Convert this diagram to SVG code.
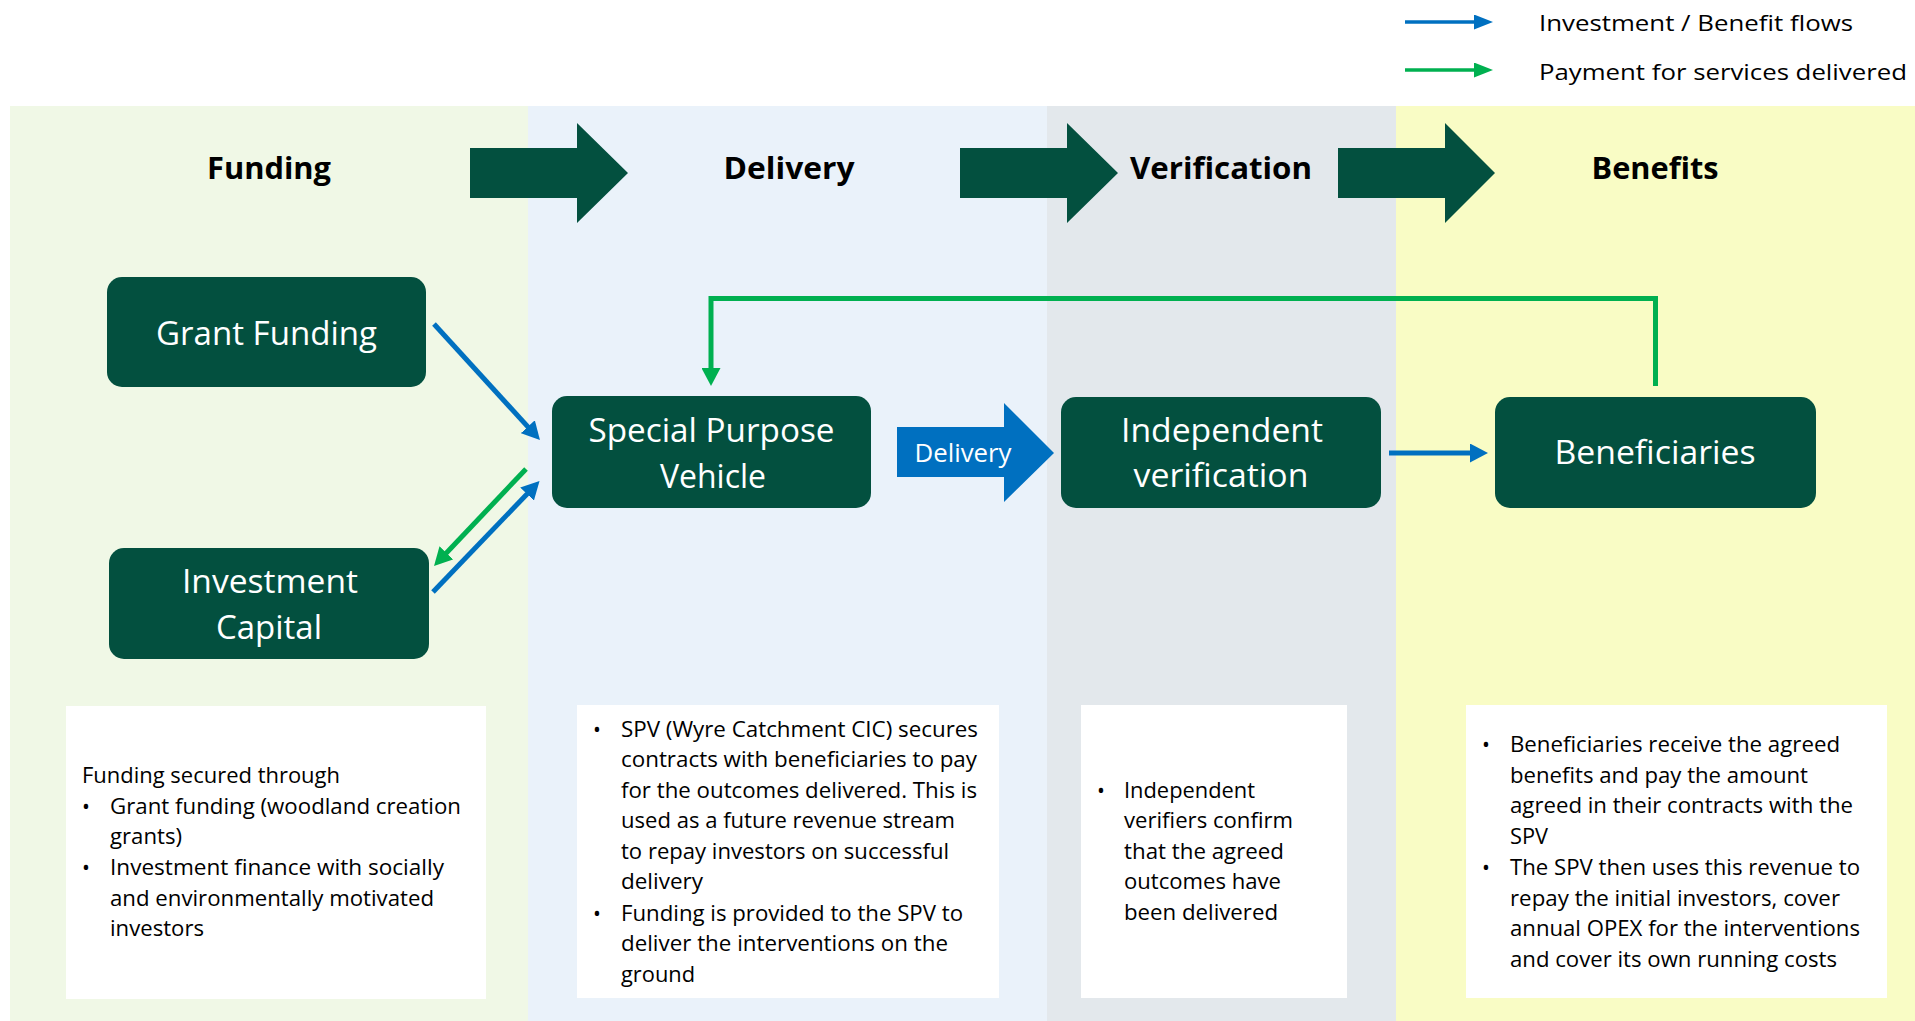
<svg xmlns="http://www.w3.org/2000/svg" width="1915" height="1021" viewBox="0 0 1915 1021">
  <style>
    .band-fund { fill: #F0F8E6; }
    .band-del { fill: #EAF2FA; }
    .band-ver { fill: #E3E8EC; }
    .band-ben { fill: #F9FCC5; }
    .stage { font-family: "Open Sans", "Liberation Sans", sans-serif; font-weight: bold; font-size: 31px; fill: #000; text-anchor: middle; }
    .stage-arrow { fill: #03503F; }
    .node rect { fill: #03503F; }
    .node text { font-family: "Open Sans", "Liberation Sans", sans-serif; font-size: 33px; fill: #fff; text-anchor: middle; }
    .note rect { fill: #fff; }
    .note text { font-family: "Open Sans", "Liberation Sans", sans-serif; font-size: 21px; fill: #000; }
    .legend text { font-family: "Open Sans", "Liberation Sans", sans-serif; font-size: 21px; fill: #000; }
    .flow-blue { stroke: #0070C0; stroke-width: 5; fill: none; }
    .flow-green { stroke: #00B050; stroke-width: 5; fill: none; }
    .legend-blue { stroke: #0070C0; stroke-width: 3.5; fill: none; }
    .legend-green { stroke: #00B050; stroke-width: 3.5; fill: none; }
  </style>
  <defs>
    <marker id="head-blue" markerUnits="userSpaceOnUse" markerWidth="19" markerHeight="19" refX="8" refY="9.5" orient="auto">
      <path d="M0,0 L18,9.5 L0,19 z" fill="#0070C0"/>
    </marker>
    <marker id="head-green" markerUnits="userSpaceOnUse" markerWidth="19" markerHeight="19" refX="8" refY="9.5" orient="auto">
      <path d="M0,0 L18,9.5 L0,19 z" fill="#00B050"/>
    </marker>
    <marker id="legend-head-blue" markerUnits="userSpaceOnUse" markerWidth="20" markerHeight="15" refX="9" refY="7.5" orient="auto">
      <path d="M0,0 L19,7.5 L0,15 z" fill="#0070C0"/>
    </marker>
    <marker id="legend-head-green" markerUnits="userSpaceOnUse" markerWidth="20" markerHeight="15" refX="9" refY="7.5" orient="auto">
      <path d="M0,0 L19,7.5 L0,15 z" fill="#00B050"/>
    </marker>
  </defs>

  <rect width="1915" height="1021" fill="#fff"/>

  <!-- stage bands -->
  <g id="bands">
    <rect class="band-fund" x="10" y="106" width="518" height="915"/>
    <rect class="band-del" x="528" y="106" width="519" height="915"/>
    <rect class="band-ver" x="1047" y="106" width="349" height="915"/>
    <rect class="band-ben" x="1396" y="106" width="519" height="915"/>
  </g>

  <!-- legend -->
  <g id="legend" class="legend">
    <line class="legend-blue" x1="1405" y1="22" x2="1483" y2="22" marker-end="url(#legend-head-blue)"/>
    <text x="1539" y="31" textLength="314" lengthAdjust="spacingAndGlyphs">Investment / Benefit flows</text>
    <line class="legend-green" x1="1405" y1="70" x2="1483" y2="70" marker-end="url(#legend-head-green)"/>
    <text x="1539" y="80" textLength="368" lengthAdjust="spacingAndGlyphs">Payment for services delivered</text>
  </g>

  <!-- stage headings and chevron arrows -->
  <g id="stages">
    <text class="stage" x="269" y="179" textLength="124" lengthAdjust="spacingAndGlyphs">Funding</text>
    <text class="stage" x="789" y="179" textLength="131" lengthAdjust="spacingAndGlyphs">Delivery</text>
    <text class="stage" x="1221" y="179" textLength="182" lengthAdjust="spacingAndGlyphs">Verification</text>
    <text class="stage" x="1655" y="179" textLength="127" lengthAdjust="spacingAndGlyphs">Benefits</text>
    <polygon class="stage-arrow" points="470,148 577,148 577,123 628,173 577,223 577,198 470,198"/>
    <polygon class="stage-arrow" points="960,148 1067,148 1067,123 1118,173 1067,223 1067,198 960,198"/>
    <polygon class="stage-arrow" points="1338,148 1445,148 1445,123 1495,173 1445,223 1445,198 1338,198"/>
  </g>

  <!-- nodes -->
  <g id="grant-funding" class="node">
    <rect x="107" y="277" width="319" height="110" rx="15"/>
    <text x="266.5" y="345" textLength="221" lengthAdjust="spacingAndGlyphs">Grant Funding</text>
  </g>
  <g id="investment-capital" class="node">
    <rect x="109" y="548" width="320" height="111" rx="15"/>
    <text x="270" y="593" textLength="176" lengthAdjust="spacingAndGlyphs">Investment</text>
    <text x="269" y="639" textLength="106" lengthAdjust="spacingAndGlyphs">Capital</text>
  </g>
  <g id="spv" class="node">
    <rect x="552" y="396" width="319" height="112" rx="15"/>
    <text x="711.5" y="442" textLength="246" lengthAdjust="spacingAndGlyphs">Special Purpose</text>
    <text x="713" y="488" textLength="106" lengthAdjust="spacingAndGlyphs">Vehicle</text>
  </g>
  <g id="independent-verification" class="node">
    <rect x="1061" y="397" width="320" height="111" rx="15"/>
    <text x="1222" y="442" textLength="202" lengthAdjust="spacingAndGlyphs">Independent</text>
    <text x="1221" y="487" textLength="175" lengthAdjust="spacingAndGlyphs">verification</text>
  </g>
  <g id="beneficiaries" class="node">
    <rect x="1495" y="397" width="321" height="111" rx="15"/>
    <text x="1655" y="464" textLength="201" lengthAdjust="spacingAndGlyphs">Beneficiaries</text>
  </g>

  <!-- delivery block arrow between SPV and verification -->
  <g id="delivery-arrow">
    <polygon points="897,427 1004,427 1004,403 1054,453 1004,502 1004,477 897,477" fill="#0070C0"/>
    <text x="963" y="462" font-family="Open Sans, Liberation Sans, sans-serif" font-size="26" fill="#fff" text-anchor="middle" textLength="97" lengthAdjust="spacingAndGlyphs">Delivery</text>
  </g>

  <!-- connectors -->
  <g id="connectors">
    <line class="flow-blue" x1="434" y1="324" x2="533.2" y2="432.6" marker-end="url(#head-blue)"/>
    <line class="flow-green" x1="526" y1="469" x2="440.9" y2="558.7" marker-end="url(#head-green)"/>
    <line class="flow-blue" x1="433" y1="592" x2="532.6" y2="488.2" marker-end="url(#head-blue)"/>
    <line class="flow-blue" x1="1389" y1="453" x2="1478" y2="453" marker-end="url(#head-blue)"/>
    <path class="flow-green" d="M1655.5,386 V298.5 H711 V376" marker-end="url(#head-green)"/>
  </g>

  <!-- explanatory notes -->
  <g id="note-funding" class="note">
    <rect x="66" y="706" width="420" height="293"/>
    <text x="82" y="783" textLength="258" lengthAdjust="spacingAndGlyphs">Funding secured through</text>
    <text x="82" y="814">•</text>
    <text x="110" y="814" textLength="351" lengthAdjust="spacingAndGlyphs">Grant funding (woodland creation</text>
    <text x="110" y="844" textLength="72" lengthAdjust="spacingAndGlyphs">grants)</text>
    <text x="82" y="875">•</text>
    <text x="110" y="875" textLength="334" lengthAdjust="spacingAndGlyphs">Investment finance with socially</text>
    <text x="110" y="906" textLength="324" lengthAdjust="spacingAndGlyphs">and environmentally motivated</text>
    <text x="110" y="936" textLength="94" lengthAdjust="spacingAndGlyphs">investors</text>
  </g>
  <g id="note-delivery" class="note">
    <rect x="577" y="705" width="422" height="293"/>
    <text x="593" y="737">•</text>
    <text x="621" y="737" textLength="357" lengthAdjust="spacingAndGlyphs">SPV (Wyre Catchment CIC) secures</text>
    <text x="621" y="767" textLength="356" lengthAdjust="spacingAndGlyphs">contracts with beneficiaries to pay</text>
    <text x="621" y="798" textLength="356" lengthAdjust="spacingAndGlyphs">for the outcomes delivered. This is</text>
    <text x="621" y="828" textLength="334" lengthAdjust="spacingAndGlyphs">used as a future revenue stream</text>
    <text x="621" y="859" textLength="328" lengthAdjust="spacingAndGlyphs">to repay investors on successful</text>
    <text x="621" y="889" textLength="82" lengthAdjust="spacingAndGlyphs">delivery</text>
    <text x="593" y="921">•</text>
    <text x="621" y="921" textLength="342" lengthAdjust="spacingAndGlyphs">Funding is provided to the SPV to</text>
    <text x="621" y="951" textLength="327" lengthAdjust="spacingAndGlyphs">deliver the interventions on the</text>
    <text x="621" y="982" textLength="74" lengthAdjust="spacingAndGlyphs">ground</text>
  </g>
  <g id="note-verification" class="note">
    <rect x="1081" y="705" width="266" height="293"/>
    <text x="1097" y="798">•</text>
    <text x="1124" y="798" textLength="131" lengthAdjust="spacingAndGlyphs">Independent</text>
    <text x="1124" y="828" textLength="169" lengthAdjust="spacingAndGlyphs">verifiers confirm</text>
    <text x="1124" y="859" textLength="160" lengthAdjust="spacingAndGlyphs">that the agreed</text>
    <text x="1124" y="889" textLength="157" lengthAdjust="spacingAndGlyphs">outcomes have</text>
    <text x="1124" y="920" textLength="154" lengthAdjust="spacingAndGlyphs">been delivered</text>
  </g>
  <g id="note-benefits" class="note">
    <rect x="1466" y="705" width="421" height="293"/>
    <text x="1482" y="752">•</text>
    <text x="1510" y="752" textLength="330" lengthAdjust="spacingAndGlyphs">Beneficiaries receive the agreed</text>
    <text x="1510" y="783" textLength="298" lengthAdjust="spacingAndGlyphs">benefits and pay the amount</text>
    <text x="1510" y="813" textLength="343" lengthAdjust="spacingAndGlyphs">agreed in their contracts with the</text>
    <text x="1510" y="844" textLength="38" lengthAdjust="spacingAndGlyphs">SPV</text>
    <text x="1482" y="875">•</text>
    <text x="1510" y="875" textLength="350" lengthAdjust="spacingAndGlyphs">The SPV then uses this revenue to</text>
    <text x="1510" y="906" textLength="330" lengthAdjust="spacingAndGlyphs">repay the initial investors, cover</text>
    <text x="1510" y="936" textLength="350" lengthAdjust="spacingAndGlyphs">annual OPEX for the interventions</text>
    <text x="1510" y="967" textLength="327" lengthAdjust="spacingAndGlyphs">and cover its own running costs</text>
  </g>
</svg>
